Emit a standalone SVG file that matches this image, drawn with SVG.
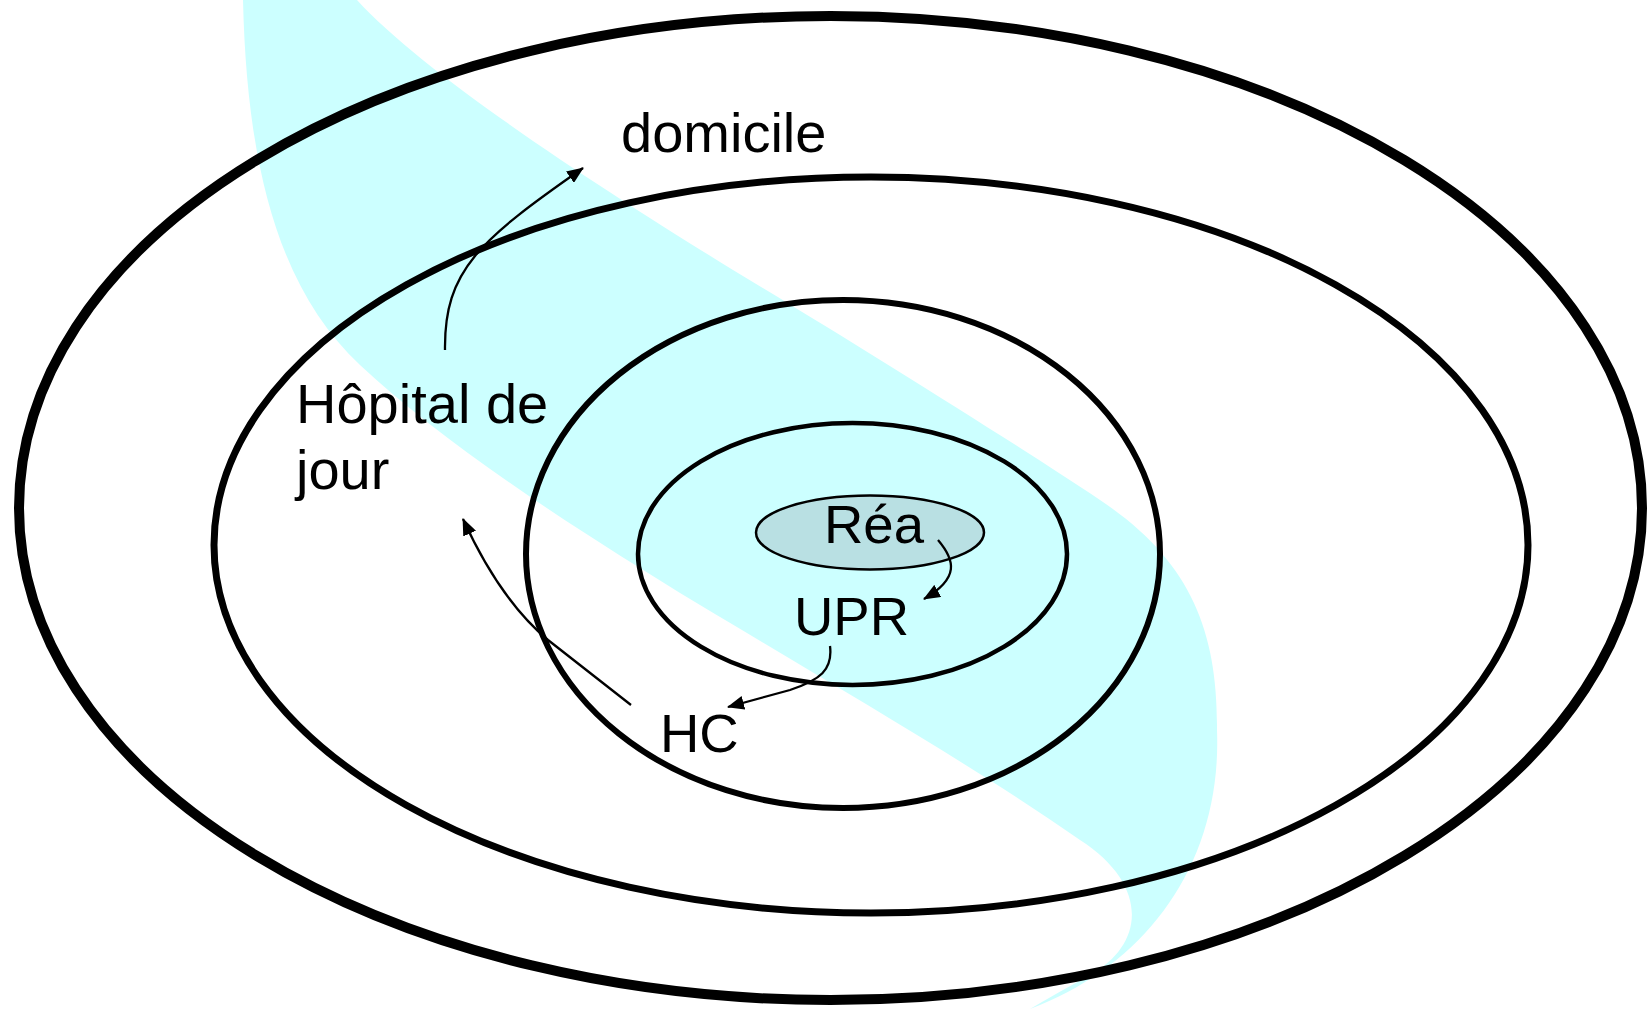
<svg xmlns="http://www.w3.org/2000/svg" width="1650" height="1009" viewBox="0 0 1650 1009">
<style>
.ring{fill:none;stroke:#000}
.lbl{font-family:"Liberation Sans",Arial,sans-serif;font-size:54.5px;fill:#000}
.big{font-size:56px}
.conn{fill:none;stroke:#000;stroke-width:2.3}
</style>
<defs>
<marker id="ah" viewBox="0 0 17 14" refX="16" refY="7" markerWidth="17" markerHeight="14" markerUnits="userSpaceOnUse" orient="auto">
<path d="M0,0 L17,7 L0,14 z" fill="#000"/>
</marker>
</defs>
<rect width="1650" height="1009" fill="#fff"/>
<path id="band" fill="#ccffff" d="M243,0 C247,170 280,290 360,365 C440,440 560,520 700,605 C850,695 980,770 1080,840 C1150,885 1145,945 1090,975 C1070,986 1045,1000 1030,1009 L1040,1005 C1150,960 1222,860 1217,730 C1218,630 1190,560 1100,500 C1010,440 850,340 733,270 C620,200 430,80 357,0 Z"/>
<g id="domicile-zone"><ellipse class="ring" cx="830.5" cy="508" rx="811.5" ry="492" stroke-width="10"/></g>
<g id="hdj-zone"><ellipse class="ring" cx="871" cy="545" rx="657" ry="368" stroke-width="7"/></g>
<g id="hc-zone"><ellipse class="ring" cx="843" cy="554" rx="317" ry="254" stroke-width="6"/></g>
<g id="upr-zone"><ellipse class="ring" cx="852.5" cy="554" rx="214.5" ry="131" stroke-width="4.5"/></g>
<g id="rea"><ellipse cx="870" cy="532.5" rx="114" ry="37" fill="#b9e0e3" stroke="#000" stroke-width="2.5"/><text class="lbl" x="824" y="543">Réa</text></g>
<g id="upr-label"><text class="lbl" x="794" y="635">UPR</text></g>
<g id="hc-label"><text class="lbl" x="660" y="752">HC</text></g>
<g id="hdj-label"><text class="lbl big" x="296" y="423">Hôpital de</text><text class="lbl big" x="296" y="489">jour</text></g>
<g id="domicile-label"><text class="lbl big" x="621" y="152">domicile</text></g>
<g id="connectors">
<path class="conn" d="M445,350 C444,270 480,240 583,168" marker-end="url(#ah)"/>
<path class="conn" d="M631,705 L548,640 Q500,600 463,519" marker-end="url(#ah)"/>
<path class="conn" d="M938,540 C955,560 960,578 924,599" marker-end="url(#ah)"/>
<path class="conn" d="M830,646 C833,670 820,680 790,690 L728,707" marker-end="url(#ah)"/>
</g>
</svg>
